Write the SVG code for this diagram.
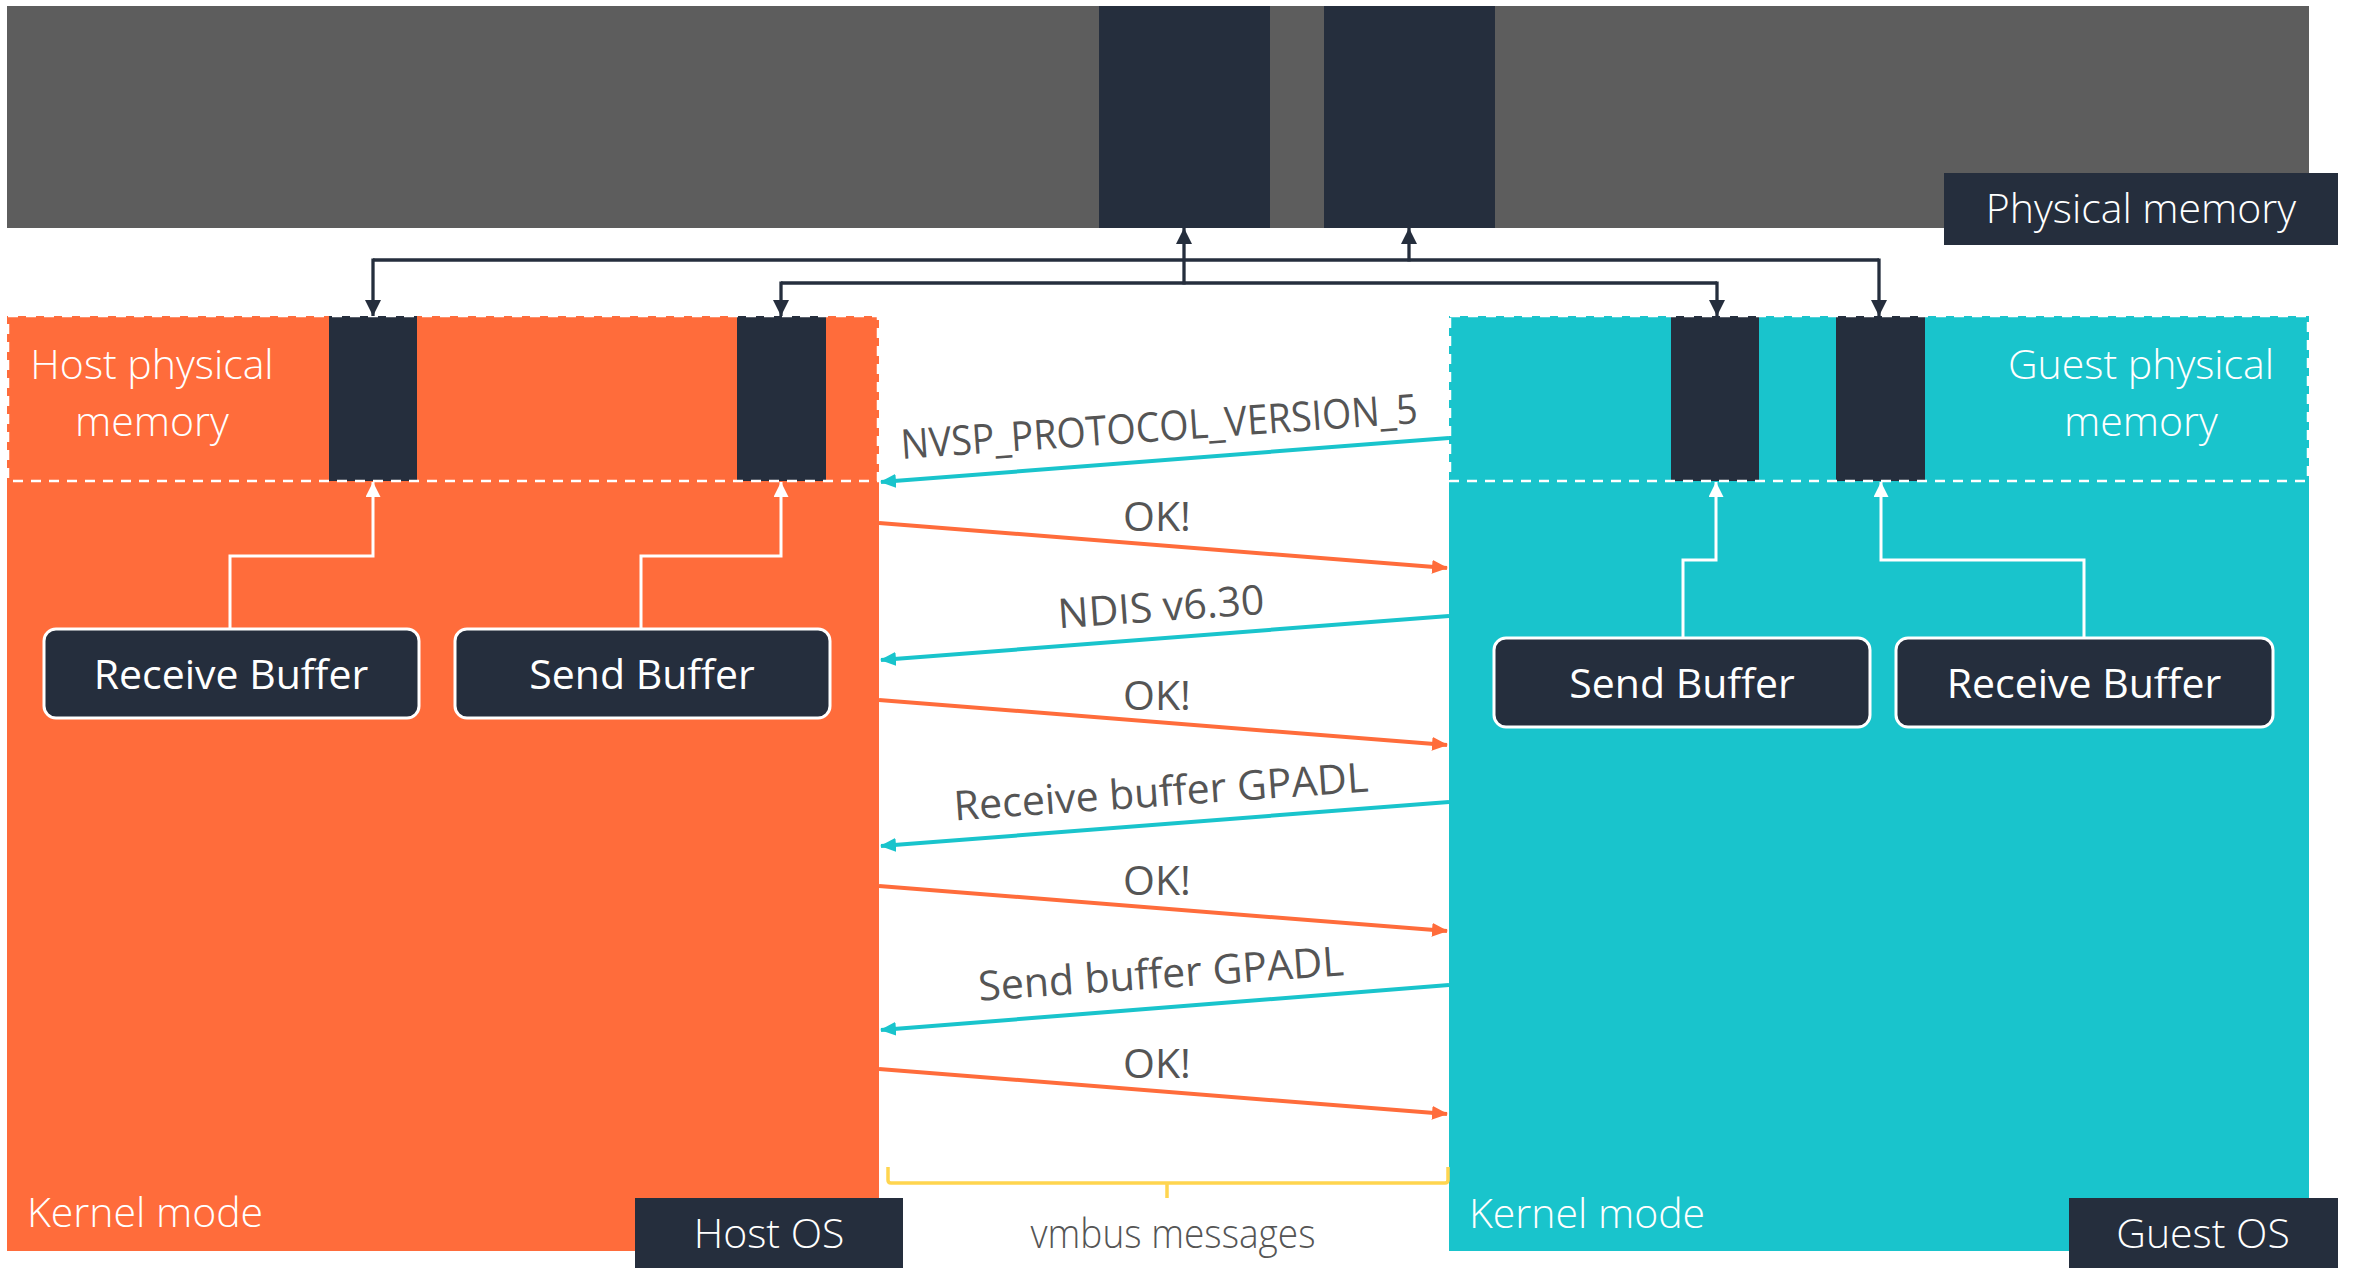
<svg xmlns="http://www.w3.org/2000/svg" width="2359" height="1268" viewBox="0 0 2359 1268">
  <style>
    .navy { fill: #252e3d; }
    .lbl { font-family: "Open Sans", "Liberation Sans", sans-serif; font-size: 41px; }
    .light { font-weight: 300; }
    .white { fill: #ffffff; }
    .msg { fill: #555555; }
    .mid { text-anchor: middle; }
    .link { fill: none; stroke: #252e3d; stroke-width: 3.3; }
    .wlink { fill: none; stroke: #ffffff; stroke-width: 3; }
    .dash { fill: none; stroke: #ffffff; stroke-width: 2.5; stroke-dasharray: 10 8; }
    .buf { fill: #252e3d; stroke: #ffffff; stroke-width: 3; }
    .cy { fill: none; stroke: #19c4cc; stroke-width: 4; }
    .or { fill: none; stroke: #ff6c3b; stroke-width: 4; }
  </style>
  <defs>
    <marker id="ah-navy" markerUnits="userSpaceOnUse" markerWidth="16" markerHeight="16" refX="16" refY="8" orient="auto">
      <path d="M0,0 L16,8 L0,16 Z" fill="#252e3d"/>
    </marker>
    <marker id="ah-white" markerUnits="userSpaceOnUse" markerWidth="15" markerHeight="15" refX="15" refY="7.5" orient="auto">
      <path d="M0,0 L15,7.5 L0,15 Z" fill="#ffffff"/>
    </marker>
    <marker id="ah-cyan" markerUnits="userSpaceOnUse" markerWidth="16" markerHeight="14" refX="15" refY="7" orient="auto">
      <path d="M0,0 L16,7 L0,14 Z" fill="#19c4cc"/>
    </marker>
    <marker id="ah-orange" markerUnits="userSpaceOnUse" markerWidth="16" markerHeight="14" refX="15" refY="7" orient="auto">
      <path d="M0,0 L16,7 L0,14 Z" fill="#ff6c3b"/>
    </marker>
  </defs>

  <!-- physical memory bar -->
  <g id="physical-memory">
    <rect x="7" y="6" width="2302" height="222" fill="#5d5d5d"/>
    <rect class="navy" x="1099" y="6" width="171" height="222"/>
    <rect class="navy" x="1324" y="6" width="171" height="222"/>
    <rect class="navy" x="1944" y="173" width="394" height="72"/>
    <text class="lbl light white mid" x="2141" y="223">Physical memory</text>
  </g>

  <!-- host side -->
  <g id="host-os">
    <rect x="7" y="316" width="872" height="935" fill="#ff6c3b"/>
    <rect class="navy" x="329" y="316" width="88" height="165"/>
    <rect class="navy" x="737" y="316" width="89" height="165"/>
    <rect class="dash" x="8" y="316" width="870" height="165"/>
    <text class="lbl light white mid" x="152" y="379">Host physical</text>
    <text class="lbl light white mid" x="152" y="436">memory</text>
    <text class="lbl light white" x="27" y="1227">Kernel mode</text>
    <rect class="navy" x="635" y="1198" width="268" height="70"/>
    <text class="lbl light white mid" x="769" y="1248">Host OS</text>
  </g>
  <g id="host-receive-buffer">
    <rect class="buf" x="44" y="629" width="375" height="89" rx="12"/>
    <text class="lbl white mid" x="231" y="689">Receive Buffer</text>
  </g>
  <g id="host-send-buffer">
    <rect class="buf" x="455" y="629" width="375" height="89" rx="12"/>
    <text class="lbl white mid" x="642" y="689">Send Buffer</text>
  </g>

  <!-- guest side -->
  <g id="guest-os">
    <rect x="1449" y="316" width="860" height="935" fill="#19c4cc"/>
    <rect class="navy" x="1671" y="316" width="88" height="165"/>
    <rect class="navy" x="1836" y="316" width="89" height="165"/>
    <rect class="dash" x="1450" y="316" width="858" height="165"/>
    <text class="lbl light white mid" x="2141" y="379">Guest physical</text>
    <text class="lbl light white mid" x="2141" y="436">memory</text>
    <text class="lbl light white" x="1469" y="1228">Kernel mode</text>
    <rect class="navy" x="2069" y="1198" width="269" height="70"/>
    <text class="lbl light white mid" x="2203" y="1248">Guest OS</text>
  </g>
  <g id="guest-send-buffer">
    <rect class="buf" x="1494" y="638" width="376" height="89" rx="12"/>
    <text class="lbl white mid" x="1682" y="698">Send Buffer</text>
  </g>
  <g id="guest-receive-buffer">
    <rect class="buf" x="1896" y="638" width="377" height="89" rx="12"/>
    <text class="lbl white mid" x="2084" y="698">Receive Buffer</text>
  </g>

  <!-- connectors -->
  <g id="connectors">
    <!-- memory mappings -->
    <path class="link" d="M373,260 L1879,260"/>
    <path class="link" d="M781,283 L1717,283"/>
    <path class="link" d="M373,258.5 L373,316" marker-end="url(#ah-navy)"/>
    <path class="link" d="M1879,258.5 L1879,316" marker-end="url(#ah-navy)"/>
    <path class="link" d="M781,281.5 L781,316" marker-end="url(#ah-navy)"/>
    <path class="link" d="M1717,281.5 L1717,316" marker-end="url(#ah-navy)"/>
    <path class="link" d="M1184,284.5 L1184,228" marker-end="url(#ah-navy)"/>
    <path class="link" d="M1409,261.5 L1409,228" marker-end="url(#ah-navy)"/>

    <!-- buffers to their memory pages -->
    <path class="wlink" d="M230,629 L230,556 L373,556 L373,482" marker-end="url(#ah-white)"/>
    <path class="wlink" d="M641,629 L641,556 L781,556 L781,482" marker-end="url(#ah-white)"/>
    <path class="wlink" d="M1683,638 L1683,560 L1716,560 L1716,482" marker-end="url(#ah-white)"/>
    <path class="wlink" d="M2084,638 L2084,560 L1881,560 L1881,482" marker-end="url(#ah-white)"/>

    <!-- vmbus messages -->
    <path class="cy" d="M1449,438 L881,482" marker-end="url(#ah-cyan)"/>
    <path class="or" d="M879,523 L1447,568" marker-end="url(#ah-orange)"/>
    <path class="cy" d="M1449,616 L881,660" marker-end="url(#ah-cyan)"/>
    <path class="or" d="M879,700 L1447,745" marker-end="url(#ah-orange)"/>
    <path class="cy" d="M1449,802 L881,846" marker-end="url(#ah-cyan)"/>
    <path class="or" d="M879,886 L1447,931" marker-end="url(#ah-orange)"/>
    <path class="cy" d="M1449,985 L881,1030" marker-end="url(#ah-cyan)"/>
    <path class="or" d="M879,1069 L1447,1114" marker-end="url(#ah-orange)"/>

    <!-- brace -->
    <path d="M888,1167 L888,1180 Q888,1183 891,1183 L1445,1183 Q1448,1183 1448,1180 L1448,1167 M1167,1183 L1167,1198" fill="none" stroke="#ffd54f" stroke-width="3.5"/>
  </g>

  <!-- message labels -->
  <g id="message-labels">
    <text class="lbl msg mid" font-size="38" textLength="518" lengthAdjust="spacingAndGlyphs" transform="translate(1160,441) rotate(-4)">NVSP_PROTOCOL_VERSION_5</text>
    <text class="lbl msg mid" x="1157" y="531">OK!</text>
    <text class="lbl msg mid" transform="translate(1162,621) rotate(-4)">NDIS v6.30</text>
    <text class="lbl msg mid" x="1157" y="710">OK!</text>
    <text class="lbl msg mid" transform="translate(1162,806) rotate(-4)">Receive buffer GPADL</text>
    <text class="lbl msg mid" x="1157" y="895">OK!</text>
    <text class="lbl msg mid" transform="translate(1162,988) rotate(-4)">Send buffer GPADL</text>
    <text class="lbl msg mid" x="1157" y="1078">OK!</text>
    <text class="lbl light msg mid" font-size="36" textLength="285" lengthAdjust="spacingAndGlyphs" x="1173" y="1248">vmbus messages</text>
  </g>
</svg>
